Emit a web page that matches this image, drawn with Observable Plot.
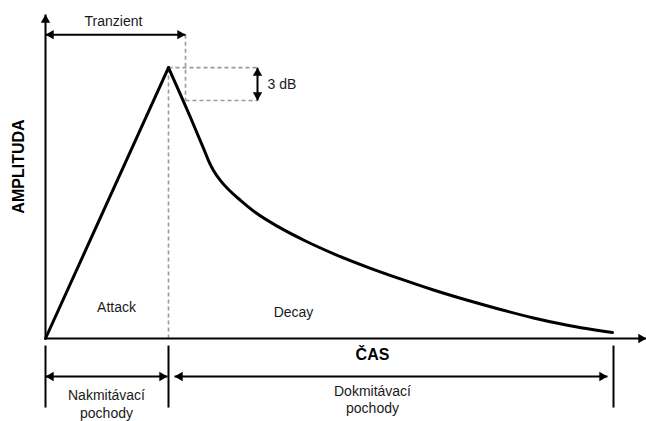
<!DOCTYPE html>
<html>
<head>
<meta charset="utf-8">
<script src="https://cdn.jsdelivr.net/npm/d3@7"></script>
<script src="https://cdn.jsdelivr.net/npm/@observablehq/plot@0.6"></script>
<style>
  html, body { margin: 0; padding: 0; background: #fff; }
  svg { display: block; }
</style>
</head>
<body>
<script>
// ---- Data (time in arbitrary units, amplitude relative to peak) ----
const attackTime = [0, 123];
const attackAmp  = [0, 1.0];

const decayTime = [123, 145, 158, 163, 168, 175, 183, 195, 210, 233, 260, 290, 323, 355, 388, 422, 455, 488, 522, 567];
const decayAmp  = [1.0, 0.816, 0.702, 0.657, 0.620, 0.583, 0.550, 0.510, 0.465, 0.412, 0.360, 0.310, 0.262, 0.220, 0.179, 0.141, 0.107, 0.076, 0.049, 0.022];

// key instants
const peakTime = 123;
const transientEnd = 140;
const decayEnd = 568;
const dbMarkTime = 212;
const amp3dB = 0.879;     // level 3 dB below peak
const transientLevel = 1.122;
const axisTop = 1.196;
const axisRight = 601;

// annotation levels below the time axis
const tickTop = -0.026, tickBottom = -0.255;
const spanLevel = -0.140;

// labels
const labelTexts = ["Tranzient", "Attack", "Decay"];
const labelTime  = [68, 71, 248];
const labelAmp   = [1.170, 0.114, 0.096];

const phaseTexts = ["Nakmitávací\npochody", "Dokmitávací\npochody"];
const phaseTime  = [61, 327];
const phaseAmp   = [-0.240, -0.225];

const xTitle = "ČAS", yTitle = "AMPLITUDA";
const dbText = "3 dB";

// ---- Build tables ----
const attack = attackTime.map((t, i) => ({t, a: attackAmp[i]}));
const decay = decayTime.map((t, i) => ({t, a: decayAmp[i]}));

const dashed = [
  {t1: peakTime, a1: 0, t2: peakTime, a2: 1.0},
  {t1: transientEnd, a1: transientLevel, t2: transientEnd, a2: amp3dB},
  {t1: peakTime, a1: 1.0, t2: dbMarkTime, a2: 1.0},
  {t1: transientEnd, a1: amp3dB, t2: dbMarkTime, a2: amp3dB}
];

const solid = [
  {t1: 0, a1: 0, t2: 0, a2: axisTop},                       // amplitude axis
  {t1: 0, a1: 0, t2: axisRight, a2: 0},                     // time axis
  {t1: 0, a1: transientLevel, t2: transientEnd, a2: transientLevel},
  {t1: dbMarkTime, a1: 1.0, t2: dbMarkTime, a2: amp3dB},
  {t1: 0, a1: tickTop, t2: 0, a2: tickBottom},
  {t1: peakTime, a1: tickTop, t2: peakTime, a2: tickBottom},
  {t1: decayEnd, a1: tickTop, t2: decayEnd, a2: tickBottom},
  {t1: 0, a1: spanLevel, t2: peakTime - 1, a2: spanLevel},
  {t1: peakTime + 6, a1: spanLevel, t2: decayEnd - 6, a2: spanLevel}
];

const headsUp    = [{t: 0, a: axisTop}, {t: dbMarkTime, a: 1.0}];
const headsDown  = [{t: dbMarkTime, a: amp3dB}];
const headsRight = [{t: axisRight, a: 0}, {t: transientEnd, a: transientLevel},
                    {t: peakTime - 1, a: spanLevel}, {t: decayEnd - 6, a: spanLevel}];
const headsLeft  = [{t: 0, a: transientLevel}, {t: 0, a: spanLevel}, {t: peakTime + 6, a: spanLevel}];

const labels = labelTexts.map((s, i) => ({s, t: labelTime[i], a: labelAmp[i]}));
const phases = phaseTexts.map((s, i) => ({s, t: phaseTime[i], a: phaseAmp[i]}));

const R = 4.5;
const tipOff = R * Math.sqrt(Math.PI) * 0.6824;
const font = "'Liberation Sans', Arial, Helvetica, sans-serif";
const ink = "#1a1a1a";

const head = (data, rotate, dx, dy) =>
  Plot.dot(data, {x: "t", y: "a", symbol: "triangle2", r: R, fill: "#000", stroke: "none", rotate, dx, dy});

const chart = Plot.plot({
  width: 646,
  height: 421,
  marginLeft: 45,
  marginRight: 1,
  marginTop: 13,
  marginBottom: 83,
  x: {domain: [0, 600], axis: null},
  y: {domain: [0, 1.2], axis: null},
  style: {fontFamily: font, background: "#fff", overflow: "visible"},
  marks: [
    Plot.link(dashed, {x1: "t1", y1: "a1", x2: "t2", y2: "a2", stroke: "#9a9a9a", strokeWidth: 1.6, strokeDasharray: "4,3"}),
    Plot.link(solid, {x1: "t1", y1: "a1", x2: "t2", y2: "a2", stroke: "#000", strokeWidth: 2}),
    Plot.line(attack, {x: "t", y: "a", stroke: "#000", strokeWidth: 3, strokeLinecap: "round", strokeLinejoin: "round"}),
    Plot.line(decay, {x: "t", y: "a", curve: "monotone-x", stroke: "#000", strokeWidth: 3, strokeLinecap: "round", strokeLinejoin: "round"}),
    head(headsUp, 0, 0, tipOff),
    head(headsDown, 180, 0, -tipOff),
    head(headsRight, 90, -tipOff, 0),
    head(headsLeft, -90, tipOff, 0),
    Plot.text(labels, {x: "t", y: "a", text: "s", fontSize: 14, fill: ink}),
    Plot.text(phases, {x: "t", y: "a", text: "s", fontSize: 14, lineHeight: 1.22, fill: ink}),
    Plot.text([{t: dbMarkTime + 10, a: 0.938}], {x: "t", y: "a", text: () => dbText, fontSize: 14, textAnchor: "start", fill: ink}),
    Plot.text([{t: 327, a: -0.059}], {x: "t", y: "a", text: () => xTitle, fontSize: 16, fontWeight: "bold", fill: "#000"}),
    Plot.text([{t: -26.5, a: 0.635}], {x: "t", y: "a", text: () => yTitle, fontSize: 16, fontWeight: "bold", rotate: -90, fill: "#000"})
  ]
});
document.body.appendChild(chart);
</script>
</body>
</html>
